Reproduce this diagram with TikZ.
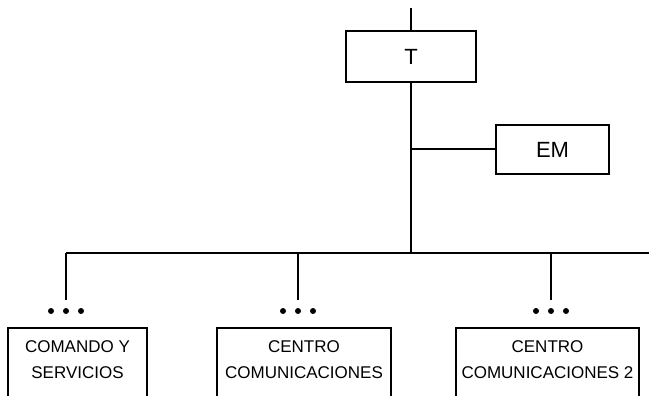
\documentclass[tikz,border=0pt]{standalone}
\usepackage{fontspec}
\setmainfont{Liberation Sans}
\usetikzlibrary{positioning}

\begin{document}
\begin{tikzpicture}[x=1pt, y=-1pt,
  box/.style={draw, line width=2pt, inner sep=0pt},
  unit/.style={box, anchor=north, minimum height=90pt},
  big/.style={font=\fontsize{22}{26}\selectfont},
  small/.style={font=\fontsize{17}{26}\selectfont, align=center},
  link/.style={line width=2pt}]
\useasboundingbox (0,0) rectangle (649,396);
\clip (0,0) rectangle (649,396);

% Top level
\node[box, big, minimum width=130pt, minimum height=51pt] (t) at (411,56.5) {T};
\node[box, big, minimum width=113pt, minimum height=49pt] (em) at (552.5,149.5) {EM};
\coordinate (up) at (411,8);
\draw[link] (up) -- (t.north);

% Trunk and staff branch
\coordinate (bus) at (t.south |- 0,253);
\coordinate (busend) at (649,253);
\draw[link] (t.south) -- (bus);
\draw[link] (t.south |- em.west) -- (em.west);

% Subordinate units
\node[unit, minimum width=139pt] (cs) at (77.5,327) {};
\node[unit, minimum width=174pt] (cc) at (304,327) {};
\node[unit, minimum width=183pt] (cc2) at (547.5,327) {};
\node[small] (csl) at (77.5,360) {COMANDO Y\\SERVICIOS};
\node[small] (ccl) at (304,360) {CENTRO\\COMUNICACIONES};
\node[small] (cc2l) at (547.5,360) {CENTRO\\COMUNICACIONES 2};

% Bus, drops and dots
\foreach \name/\x in {a/66, b/298, c/551} {
  \coordinate (top\name) at (\x,253);
  \coordinate (end\name) at (\x,300);
  \draw[link] (top\name) -- (end\name);
  \foreach \dx in {-15,0,15}
    \fill (\x+\dx,311) circle (3pt);
}
\draw[link] (topa) -- (busend);
\end{tikzpicture}
\end{document}
